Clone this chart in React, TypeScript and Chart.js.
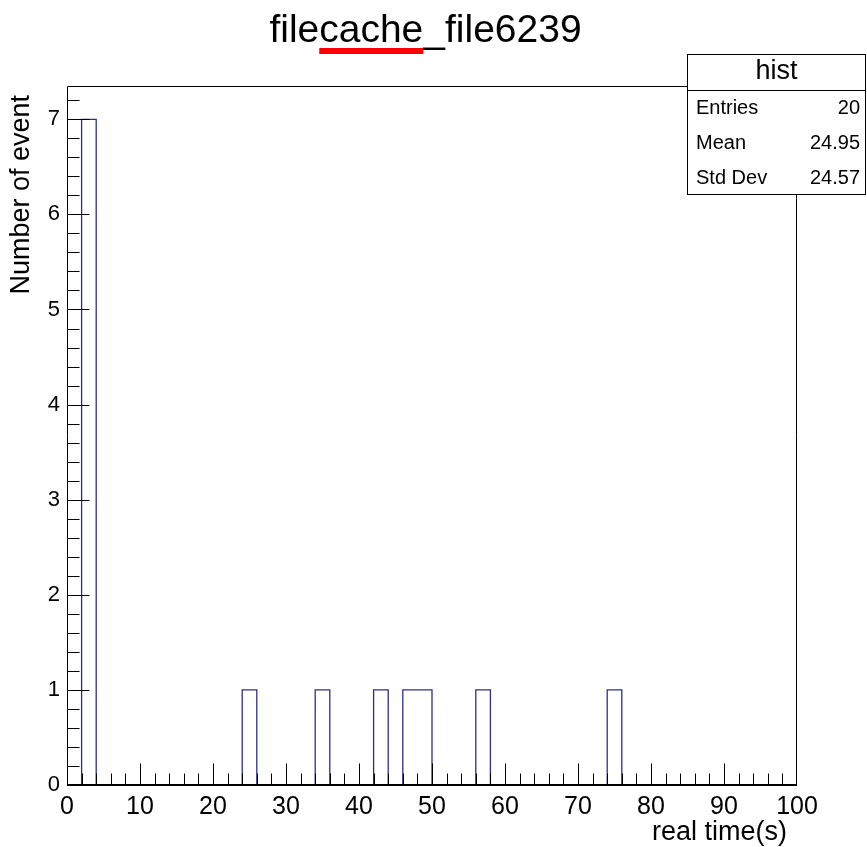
import React, { useEffect, useRef } from "react";
import { Chart, registerables } from "chart.js";

Chart.register(...registerables);

// ---- data ----
const chartTitle = "filecache_file6239";
const highlightedWord = "cache";
const xAxisTitle = "real time(s)";
const yAxisTitle = "Number of event";
const histName = "hist";
const xMin = 0;
const xMax = 100;
const binWidth = 2;
// counts per 2-second bin, 0..100
const binCounts = [
  0, 7, 0, 0, 0, 0, 0, 0, 0, 0,
  0, 0, 1, 0, 0, 0, 0, 1, 0, 0,
  0, 1, 0, 1, 1, 0, 0, 0, 1, 0,
  0, 0, 0, 0, 0, 0, 0, 1, 0, 0,
  0, 0, 0, 0, 0, 0, 0, 0, 0, 0,
];
const statLabels = ["Entries", "Mean", "Std Dev"];
const statValues = ["20", "24.95", "24.57"];
const yMax = 7.35;
const xMajorStep = 10;
const xMinorStep = 2;
const yMajorStep = 1;
const yMinorStep = 0.2;

const FONT = "'Liberation Sans', Arial, Helvetica, sans-serif";
const LINE_COLOR = "#2e2e8a";

const framePlugin = {
  id: "rootFrame",
  afterDatasetsDraw(chart: any) {
    const { ctx, chartArea: a, scales } = chart;
    const xs = scales.x;
    const ys = scales.y;
    ctx.save();
    ctx.strokeStyle = "#000";
    const L = Math.round(a.left) + 0.5;
    const R = Math.round(a.right) - 0.5;
    const T = Math.round(a.top) + 0.5;
    const Bpx = Math.round(a.bottom);
    // bottom axis line (2px to cover the histogram baseline)
    ctx.lineWidth = 2;
    ctx.beginPath();
    ctx.moveTo(L - 0.5, Bpx);
    ctx.lineTo(R + 0.5, Bpx);
    ctx.stroke();
    ctx.lineWidth = 1;
    ctx.beginPath();
    ctx.moveTo(L, Bpx);
    ctx.lineTo(L, T);
    ctx.lineTo(R, T);
    ctx.lineTo(R, Bpx);
    const B = Bpx - 0.5;
    const nx = Math.round((xMax - xMin) / xMinorStep);
    for (let i = 1; i < nx; i++) {
      const v = xMin + i * xMinorStep;
      const major = Math.abs(v / xMajorStep - Math.round(v / xMajorStep)) < 1e-6;
      const px = Math.round(xs.getPixelForValue(v)) + 0.5;
      ctx.moveTo(px, B);
      ctx.lineTo(px, B - (major ? 21 : 11));
    }
    const ny = Math.floor(yMax / yMinorStep + 1e-6);
    for (let i = 1; i <= ny; i++) {
      const v = i * yMinorStep;
      const major = Math.abs(v / yMajorStep - Math.round(v / yMajorStep)) < 1e-6;
      const py = Math.round(ys.getPixelForValue(v)) + 0.5;
      ctx.moveTo(L, py);
      ctx.lineTo(L + (major ? 22 : 12), py);
    }
    ctx.stroke();
    ctx.restore();
  },
  afterDraw(chart: any) {
    const { ctx, chartArea: a } = chart;
    ctx.save();
    ctx.fillStyle = "#000";
    // title
    ctx.font = `39px ${FONT}`;
    ctx.textBaseline = "alphabetic";
    ctx.textAlign = "left";
    const tw = ctx.measureText(chartTitle).width;
    const tLeft = 425.5 - tw / 2;
    ctx.fillText(chartTitle, tLeft, 42);
    const idx = chartTitle.indexOf(highlightedWord);
    if (idx >= 0) {
      const s = tLeft + ctx.measureText(chartTitle.slice(0, idx)).width;
      const e = tLeft + ctx.measureText(chartTitle.slice(0, idx + highlightedWord.length)).width;
      ctx.fillStyle = "#ff0000";
      ctx.fillRect(s, 48, e - s, 6);
      ctx.fillStyle = "#000";
    }
    // y title
    ctx.save();
    ctx.font = `27px ${FONT}`;
    ctx.translate(29, 95);
    ctx.rotate(-Math.PI / 2);
    ctx.textAlign = "right";
    ctx.fillText(yAxisTitle, 0, 0);
    ctx.restore();
    // x title
    ctx.font = `27px ${FONT}`;
    ctx.textAlign = "right";
    ctx.fillText(xAxisTitle, a.right - 10, 840);
    // stats box
    const bx = 687.5, by = 54.5, bw = 178, bh = 140;
    ctx.fillStyle = "#fff";
    ctx.fillRect(bx, by, bw, bh);
    ctx.strokeStyle = "#000";
    ctx.lineWidth = 1;
    ctx.strokeRect(bx, by, bw, bh);
    ctx.beginPath();
    ctx.moveTo(bx, 90.5);
    ctx.lineTo(bx + bw, 90.5);
    ctx.stroke();
    ctx.fillStyle = "#000";
    ctx.font = `27px ${FONT}`;
    ctx.textAlign = "center";
    ctx.textBaseline = "middle";
    ctx.fillText(histName, bx + bw / 2, 72);
    ctx.font = `20px ${FONT}`;
    statLabels.forEach((lab, i) => {
      const y = 108 + i * 35;
      ctx.textAlign = "left";
      ctx.fillText(lab, 696, y);
      ctx.textAlign = "right";
      ctx.fillText(statValues[i], 860, y);
    });
    ctx.restore();
  },
};

export default function App() {
  const ref = useRef<HTMLCanvasElement | null>(null);
  useEffect(() => {
    document.body.style.margin = "0";
    const points = binCounts.map((c, i) => ({ x: xMin + i * binWidth, y: c }));
    points.push({ x: xMax, y: 0 });
    const chart = new Chart(ref.current as HTMLCanvasElement, {
      type: "line",
      data: {
        datasets: [
          {
            data: points,
            stepped: "before",
            borderColor: LINE_COLOR,
            borderWidth: 1.3,
            pointRadius: 0,
            fill: false,
          } as any,
        ],
      },
      options: {
        animation: false,
        responsive: false,
        events: [],
        layout: { padding: { left: 0, top: 86, right: 70, bottom: 0 } },
        plugins: { legend: { display: false }, tooltip: { enabled: false }, title: { display: false } },
        scales: {
          x: {
            type: "linear",
            min: xMin,
            max: xMax,
            grid: { display: false, drawTicks: false },
            border: { display: false },
            ticks: {
              stepSize: xMajorStep,
              autoSkip: false,
              maxRotation: 0,
              padding: 7,
              color: "#000",
              font: { family: FONT, size: 25 },
            },
            afterFit: (s: any) => {
              s.height = 62;
            },
          },
          y: {
            type: "linear",
            min: 0,
            max: yMax,
            grid: { display: false, drawTicks: false },
            border: { display: false },
            ticks: {
              stepSize: yMajorStep,
              includeBounds: false,
              padding: 7,
              color: "#000",
              font: { family: FONT, size: 22 },
            },
            afterFit: (s: any) => {
              s.width = 67;
            },
          },
        },
      },
      plugins: [framePlugin],
    });
    return () => chart.destroy();
  }, []);
  return (
    <div style={{ width: 867, height: 847, background: "#fff" }}>
      <canvas ref={ref} width={867} height={847} style={{ display: "block" }} />
    </div>
  );
}
